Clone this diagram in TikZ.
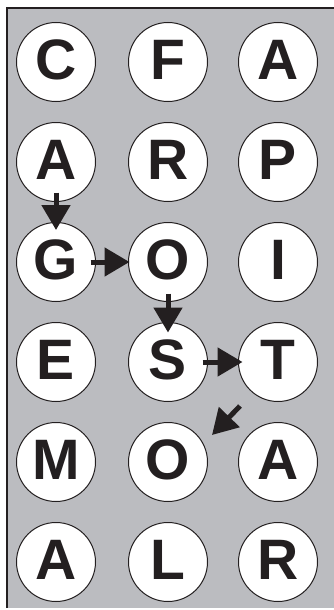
\documentclass[tikz,border=0pt]{standalone}
\usepackage{fontspec}
\setmainfont{Liberation Sans}
\usetikzlibrary{arrows.meta}
\definecolor{bg}{HTML}{BBBCC0}
\definecolor{ink}{HTML}{231F20}
\begin{document}
\begin{tikzpicture}[x=1pt,y=-1pt,
  letter/.style={circle, draw=ink, line width=1pt, fill=white, minimum size=79pt,
    inner sep=0pt, text height=41.5pt, text depth=6pt,
    font=\fontsize{57}{57}\selectfont\bfseries, text=ink},
  link/.style={draw=ink, line width=5pt, -{Triangle[length=25pt,width=28pt]}}]
\useasboundingbox (0,0) rectangle (334,610);
\fill[bg] (7,8) rectangle (340,608);
\draw[ink, line width=1.2pt] (7,608) -- (7,8) -- (340,8);
% row 1
\node[letter] (c11) at (56,62) {C};
\node[letter] (c12) at (168,62) {F};
\node[letter] (c13) at (278,62) {A};
% row 2
\node[letter] (c21) at (56,162) {A};
\node[letter] (c22) at (168,162) {R};
\node[letter] (c23) at (278,162) {P};
% row 3
\node[letter] (c31) at (56,262) {G};
\node[letter] (c32) at (168,262) {O};
\node[letter] (c33) at (278,262) {I};
% row 4
\node[letter] (c41) at (56,362) {E};
\node[letter] (c42) at (168,362) {S};
\node[letter] (c43) at (278,362) {T};
% row 5
\node[letter] (c51) at (56,462) {M};
\node[letter] (c52) at (168,462) {O};
\node[letter] (c53) at (278,462) {A};
% row 6
\node[letter] (c61) at (56,562) {A};
\node[letter] (c62) at (168,562) {L};
\node[letter] (c63) at (278,562) {R};
% arrows
\draw[link, shorten <=-9.5pt, shorten >=-8pt] (c21.south) -- (c31.north);
\draw[link, shorten <=-5.5pt, shorten >=-1.5pt] (c31.east) -- (c32.west);
\draw[link, shorten <=-8.5pt, shorten >=-10.5pt] (c32.south) -- (c42.north);
\draw[link, shorten <=-5.5pt, shorten >=-4.5pt] (c42.east) -- (c43.west);
\coordinate (dtail) at (240,406);
\coordinate (dtip) at (212,435);
\draw[link] (dtail) -- (dtip);
\end{tikzpicture}
\end{document}
